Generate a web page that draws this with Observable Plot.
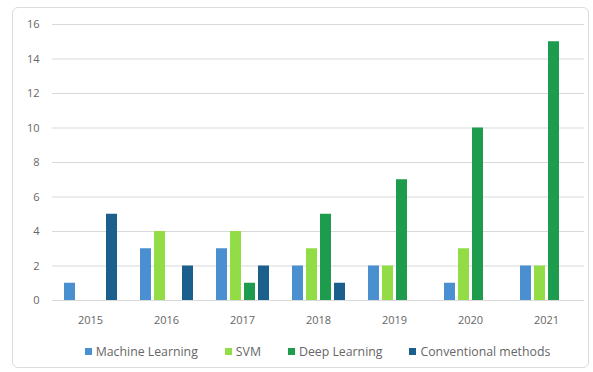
<!DOCTYPE html>
<html>
<head>
<meta charset="utf-8">
<script src="https://cdn.jsdelivr.net/npm/d3@7"></script>
<script src="https://cdn.jsdelivr.net/npm/@observablehq/plot@0.6"></script>
<style>
  html, body { margin: 0; padding: 0; background: #fff; }
  body { width: 593px; height: 372px; position: relative; overflow: hidden; font-family: "Open Sans", sans-serif; }
  #frame { position: absolute; left: 12px; top: 7px; width: 575px; height: 359px; border: 1px solid #dcdcdc; border-radius: 6px; pointer-events: none; }
  #chart { position: absolute; left: 0; top: 0; }
  #legend { position: absolute; left: 50px; width: 535px; top: 343px; display: flex; justify-content: center; gap: 27px; font-size: 12.3px; color: #666; }
  .item { display: flex; align-items: center; gap: 4px; white-space: nowrap; }
  .sw { width: 7px; height: 7px; display: inline-block; }
</style>
</head>
<body>
<div id="chart"></div>
<div id="legend"></div>
<div id="frame"></div>
<script>
const years = ["2015", "2016", "2017", "2018", "2019", "2020", "2021"];
const seriesNames = ["Machine Learning", "SVM", "Deep Learning", "Conventional methods"];
const machineLearning = [1, 3, 3, 2, 2, 1, 2];
const svm = [0, 4, 4, 3, 2, 3, 2];
const deepLearning = [0, 0, 1, 5, 7, 10, 15];
const conventional = [5, 2, 2, 1, 0, 0, 0];
const yTicks = [0, 2, 4, 6, 8, 10, 12, 14, 16];
const colors = ["#4a8fd0", "#92dc46", "#1c9c4c", "#1b5f8d"];

const seriesValues = [machineLearning, svm, deepLearning, conventional];
const data = [];
years.forEach((yr, i) => {
  seriesNames.forEach((s, j) => {
    data.push({year: yr, series: s, value: seriesValues[j][i]});
  });
});

const plot = Plot.plot({
  width: 593,
  height: 330,
  marginLeft: 50,
  marginRight: 8,
  marginTop: 24,
  marginBottom: 30,
  style: {background: "transparent", fontFamily: "Open Sans, sans-serif", fontSize: "11px", color: "#666"},
  fx: {domain: years, padding: 0, label: null},
  x: {domain: seriesNames, paddingInner: 0.22, paddingOuter: 0.74, axis: null},
  y: {domain: [0, 16], ticks: yTicks, label: null},
  color: {domain: seriesNames, range: colors},
  marks: [
    Plot.gridY(yTicks, {stroke: "#d9d9d9", strokeOpacity: 1, strokeWidth: 1}),
    Plot.barY(data, {fx: "year", x: "series", y: "value", fill: "series"}),
    Plot.axisY(yTicks, {tickSize: 0, tickPadding: 13, fill: "#666", fontSize: 11, label: null}),
    Plot.axisFx({anchor: "bottom", tickSize: 0, tickPadding: 16, fill: "#666", fontSize: 11, label: null})
  ]
});
document.getElementById("chart").appendChild(plot);

const legend = document.getElementById("legend");
seriesNames.forEach((s, i) => {
  const item = document.createElement("div");
  item.className = "item";
  const sw = document.createElement("span");
  sw.className = "sw";
  sw.style.background = colors[i];
  const t = document.createElement("span");
  t.textContent = s;
  item.appendChild(sw);
  item.appendChild(t);
  legend.appendChild(item);
});
</script>
</body>
</html>
